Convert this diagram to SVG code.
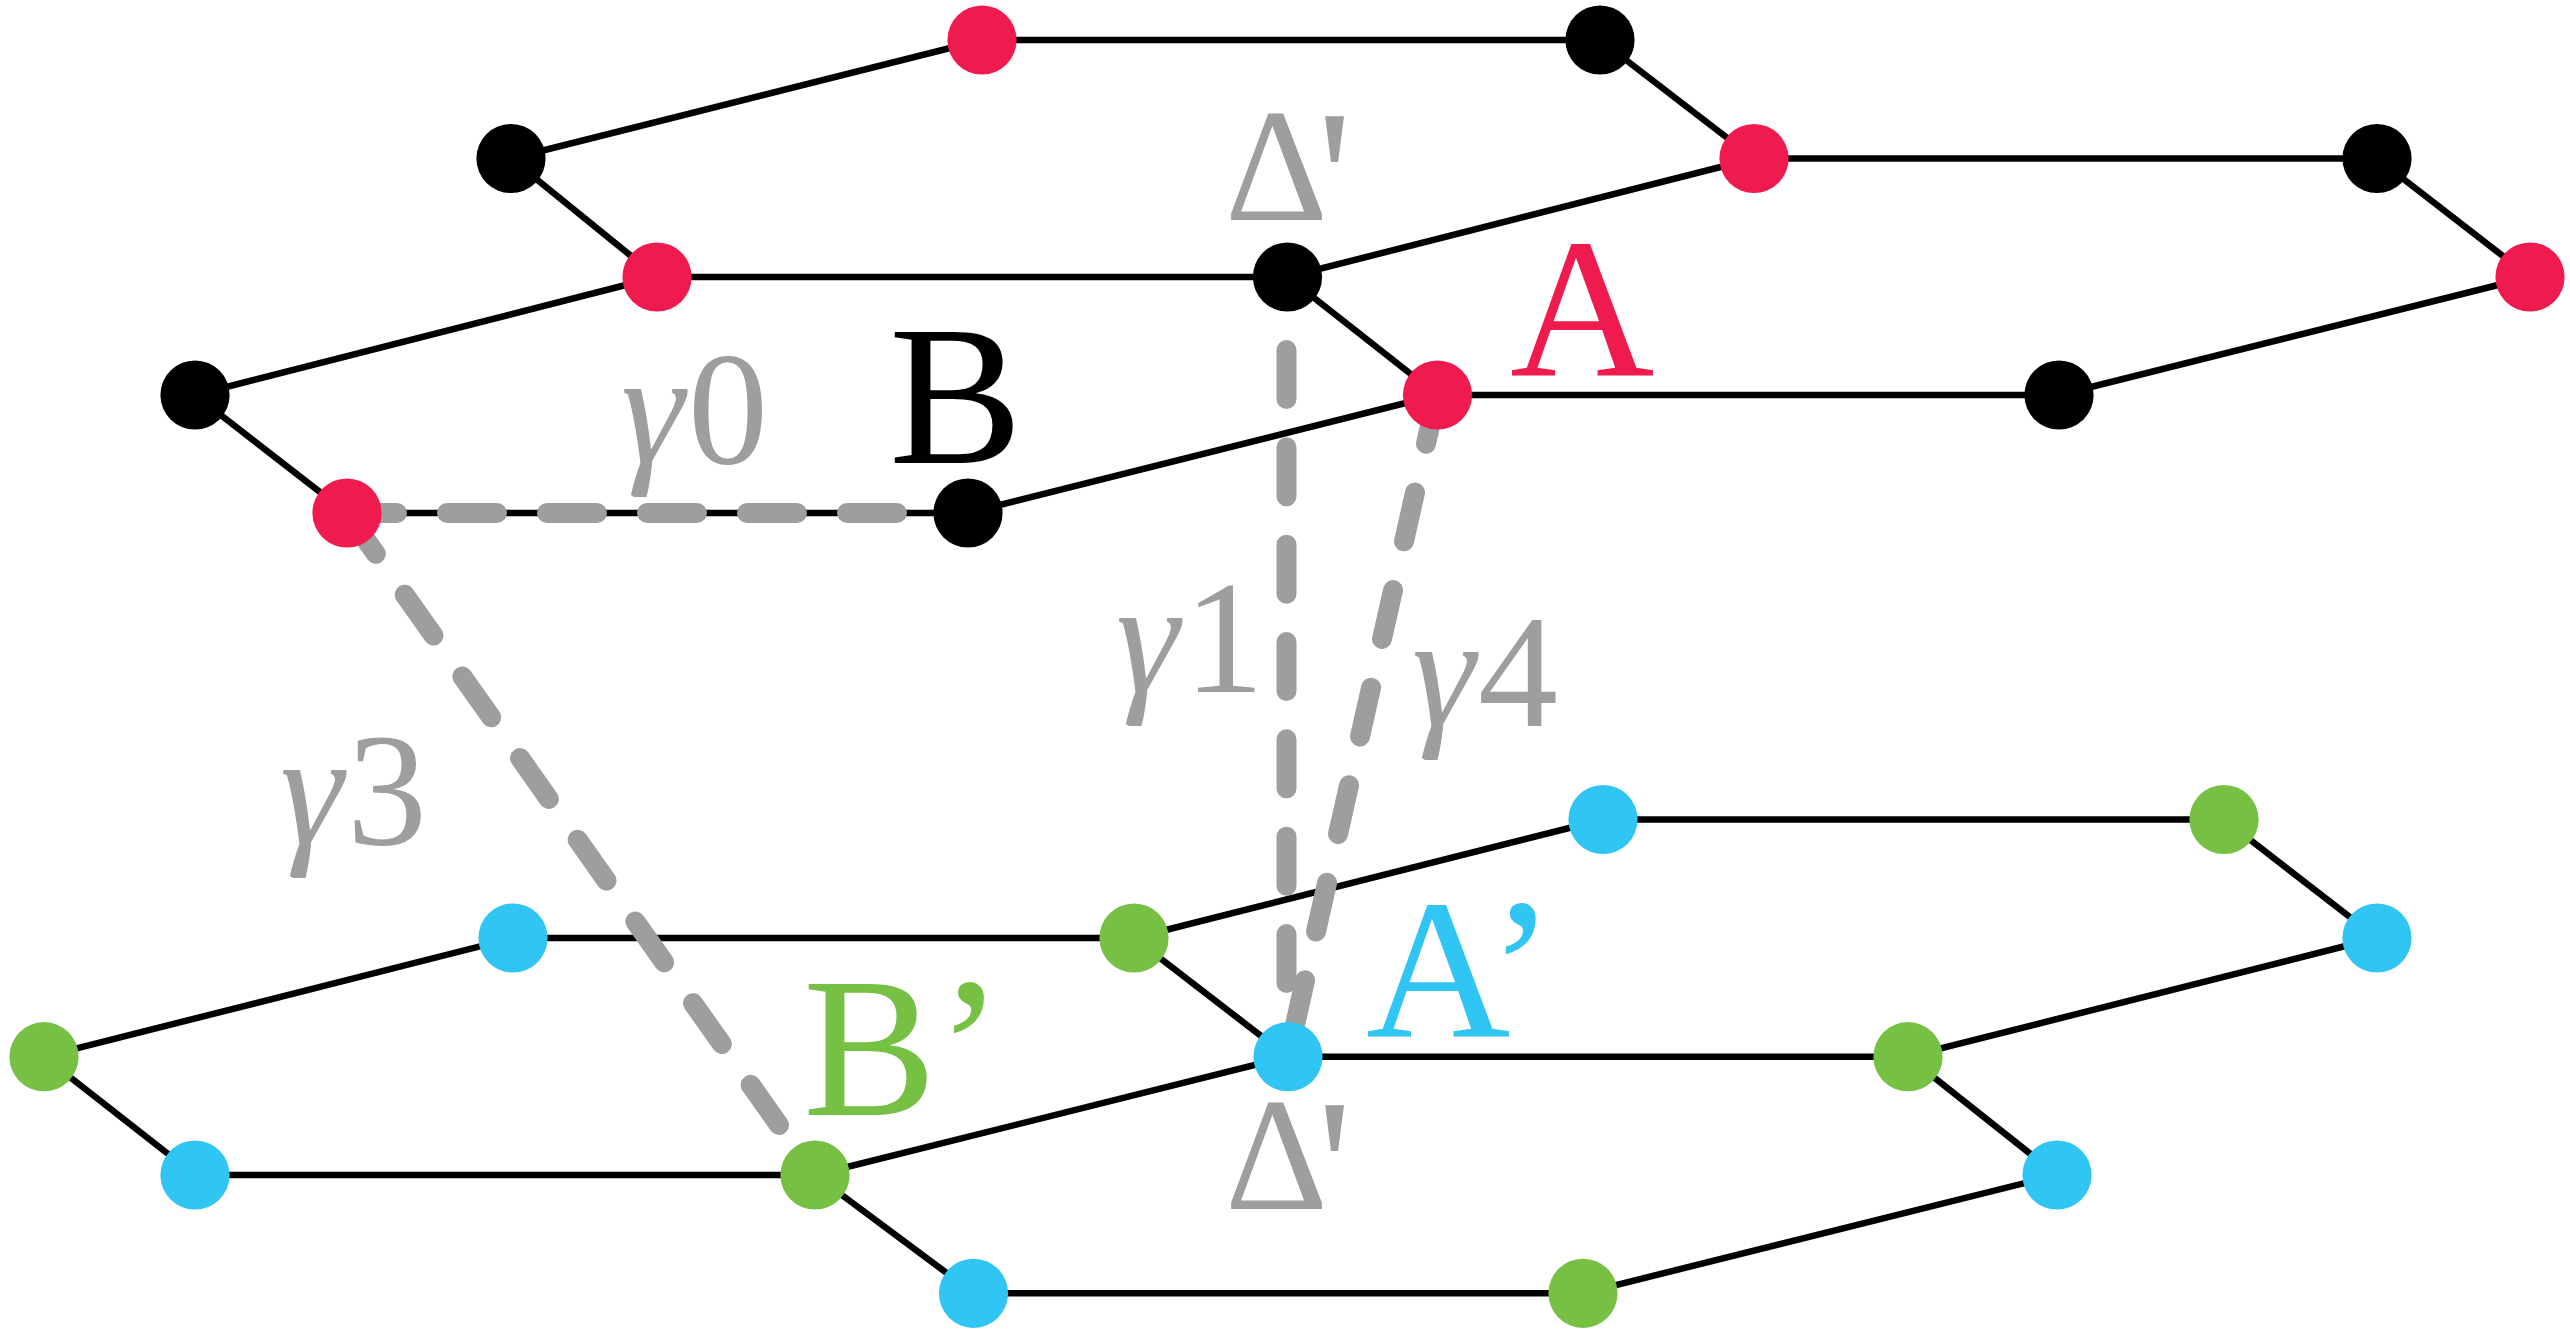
<svg xmlns="http://www.w3.org/2000/svg" width="2570" height="1330" viewBox="0 0 2570 1330">
<style>
.e{stroke:#000;stroke-width:6.5;fill:none;stroke-linejoin:round}
.d{stroke:#9e9e9e;stroke-width:20;fill:none;stroke-linecap:round;stroke-dasharray:50 50}
.r{fill:#ef1b4f}.k{fill:#000}.b{fill:#31c5f4}.g{fill:#76c043}
circle{r:34.6px}
text{font-family:"Liberation Serif","Times New Roman",serif}
.t{font-size:200px}
.m{font-size:160px;fill:#9d9f9e}
.y{font-style:italic}
.p{font-size:195px}
.l{letter-spacing:-12px}
</style>
<rect width="2570" height="1330" fill="#fff"/>
<g id="connectors">
<path class="e" d="M511 158.5L982 40H1600L1754 158.5L1287.5 277H657L511 158.5"/>
<path class="e" d="M1754 158.5H2377L2530 277L2059 395H1437.5L1287.5 277"/>
<path class="e" d="M195 395L657 277M195 395L347 513H968L1437.5 395"/>
<path class="e" d="M1603 819.5H2224L2377 938L1908 1056.7H1288L1134 938L1603 819.5"/>
<path class="e" d="M513 938H1134M513 938L44 1056.7L195 1175H815L1288 1056.7"/>
<path class="e" d="M815 1175L974 1293.3H1583L2057 1175L1908 1056.7"/>
<path class="d" d="M347 513H897"/>
<path class="d" d="M347 513L779 1125"/>
<path class="d" d="M1286.5 350V983" style="stroke-dasharray:49 48.33"/>
<path class="d" d="M1437 395L1288 1056"/>
</g>
<g id="n1"><circle class="r" cx="982" cy="40"/></g>
<g id="n2"><circle class="k" cx="1600" cy="40"/></g>
<g id="n3"><circle class="k" cx="511" cy="158.5"/></g>
<g id="n4"><circle class="r" cx="657" cy="277"/></g>
<g id="n5"><circle class="k" cx="1287.5" cy="277"/></g>
<g id="n6"><circle class="r" cx="1754" cy="158.5"/></g>
<g id="n7"><circle class="k" cx="2377" cy="158.5"/></g>
<g id="n8"><circle class="r" cx="2530" cy="277"/></g>
<g id="n9"><circle class="k" cx="195" cy="395"/></g>
<g id="n10"><circle class="r" cx="347" cy="513"/></g>
<g id="n11"><circle class="k" cx="968" cy="513"/></g>
<g id="n12"><circle class="r" cx="1437.5" cy="395"/></g>
<g id="n13"><circle class="k" cx="2059" cy="395"/></g>
<g id="n14"><circle class="b" cx="1603" cy="819.5"/></g>
<g id="n15"><circle class="g" cx="2224" cy="819.5"/></g>
<g id="n16"><circle class="b" cx="513" cy="938"/></g>
<g id="n17"><circle class="g" cx="1134" cy="938"/></g>
<g id="n18"><circle class="b" cx="2377" cy="938"/></g>
<g id="n19"><circle class="g" cx="44" cy="1056.7"/></g>
<g id="n20"><circle class="b" cx="1288" cy="1056.7"/></g>
<g id="n21"><circle class="g" cx="1908" cy="1056.7"/></g>
<g id="n22"><circle class="b" cx="195" cy="1175"/></g>
<g id="n23"><circle class="g" cx="815" cy="1175"/></g>
<g id="n24"><circle class="b" cx="2057" cy="1175"/></g>
<g id="n25"><circle class="b" cx="973.5" cy="1293.3"/></g>
<g id="n26"><circle class="g" cx="1583" cy="1293.3"/></g>
<g id="labels">
<text class="t" x="1510" y="375" fill="#ef1b4f">A</text>
<text class="t" x="889" y="463" fill="#000">B</text>
<text class="t" x="1366" y="1036" fill="#31c5f4">A’</text>
<text class="t" x="803" y="1115" fill="#76c043">B’</text>
<text class="m" x="1225" y="220"><tspan class="l">Δ</tspan><tspan class="p" x="1317" y="244">'</tspan></text>
<text class="m" x="1225" y="1209"><tspan class="l">Δ</tspan><tspan class="p" x="1317" y="1233">'</tspan></text>
<text class="m" x="621" y="462.5"><tspan class="y">γ</tspan><tspan x="688">0</tspan></text>
<text class="m" x="1116" y="692"><tspan class="y">γ</tspan><tspan x="1184">1</tspan></text>
<text class="m" x="1412" y="726"><tspan class="y">γ</tspan><tspan x="1478">4</tspan></text>
<text class="m" x="280" y="844"><tspan class="y">γ</tspan><tspan x="347">3</tspan></text>
</g>
</svg>
